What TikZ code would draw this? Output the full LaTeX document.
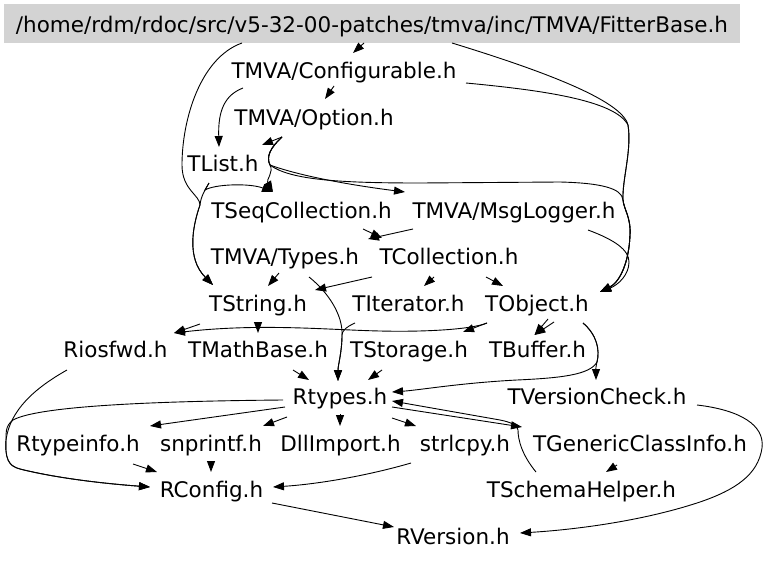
\documentclass[tikz,border=0pt]{standalone}
\usepackage{fontspec}
\setmainfont{DejaVu Sans}
\usetikzlibrary{arrows.meta,calc}
\definecolor{rootgray}{RGB}{211,211,211}
\begin{document}
\begin{tikzpicture}[x=1pt,y=-1pt,
  lbl/.style={anchor=base,inner sep=0pt,font=\fontsize{21.5pt}{24pt}\selectfont},
  e/.style={draw=black,line width=0.9pt,-{Triangle[length=11pt,width=8pt]}},
  ln/.style={draw=black,line width=0.9pt}]
\useasboundingbox (0,0) rectangle (768,562);
\fill[white] (0,0) rectangle (768,562);
% nodes
\node[lbl,fill=rootgray,minimum width=736pt,inner xsep=0pt,inner ysep=5pt,text height=23pt,text depth=6pt] (root) at (372,32) {/home/rdm/rdoc/src/v5-32-00-patches/tmva/inc/TMVA/FitterBase.h};
\node[lbl] (cfg) at (344,78) {TMVA/Configurable.h};
\node[lbl] (opt) at (314,125) {TMVA/Option.h};
\node[lbl] (tlist) at (223,171) {TList.h};
\node[lbl] (tseq) at (301.5,218) {TSeqCollection.h};
\node[lbl] (msg) at (514,218) {TMVA/MsgLogger.h};
\node[lbl] (types) at (285,264) {TMVA/Types.h};
\node[lbl] (tcoll) at (449,264) {TCollection.h};
\node[lbl] (tstr) at (258,311) {TString.h};
\node[lbl] (titer) at (408.5,311) {TIterator.h};
\node[lbl] (tobj) at (537,311) {TObject.h};
\node[lbl] (riosfwd) at (115.5,357) {Riosfwd.h};
\node[lbl] (tmath) at (258,357) {TMathBase.h};
\node[lbl] (tstor) at (409,357) {TStorage.h};
\node[lbl] (tbuf) at (537.5,357) {TBuffer.h};
\node[lbl] (rtypes) at (340,404) {Rtypes.h};
\node[lbl] (tver) at (597,404) {TVersionCheck.h};
\node[lbl] (rtinfo) at (78,451) {Rtypeinfo.h};
\node[lbl] (snpr) at (211,451) {snprintf.h};
\node[lbl] (dll) at (340.5,451) {DllImport.h};
\node[lbl] (strl) at (465,451) {strlcpy.h};
\node[lbl] (tgen) at (640,451) {TGenericClassInfo.h};
\node[lbl] (rconf) at (211.5,497) {RConfig.h};
\node[lbl] (tschema) at (581.5,497) {TSchemaHelper.h};
\node[lbl] (rver) at (453,544) {RVersion.h};
% edges
\draw[e] ($(root.base)+(-8,11)$) -- ($(cfg.base)+(9,-25)$);
\draw[e] ($(cfg.base)+(-10,8)$) -- ($(opt.base)+(11,-26)$);
\draw[e] ($(cfg.base)+(-101,10)$) .. controls (225,95) and (218,110) .. ($(tlist.base)+(-4,-24)$);
\draw[e] ($(opt.base)+(-32,12)$) -- ($(tlist.base)+(39,-26)$);
\draw[e] ($(opt.base)+(-32,12)$) .. controls (270,148) and (266,157) .. (270,165) .. controls (274,172) and (266,180) .. ($(tseq.base)+(-28.5,-26)$);
\draw[e] ($(root.base)+(-130,11)$) .. controls (200,58) and (182,120) .. (182,165) .. controls (182,190) and (200,195) .. (200,205) .. controls (193,225) and (186,258) .. ($(tstr.base)+(-45,-26)$);
\draw[e] ($(tlist.base)+(-14,12)$) .. controls (205,190) and (201,196) .. (200,205) .. controls (193,225) and (186,258) .. ($(tstr.base)+(-45,-26)$);
\draw[e] ($(tlist.base)+(-14,12)$) -- (205,190) .. controls (215,184) and (250,183) .. ($(tseq.base)+(-28.5,-26)$);
\draw[e] ($(opt.base)+(-32,12)$) .. controls (270,148) and (266,157) .. (270,165) .. controls (300,176) and (350,185) .. ($(msg.base)+(-109,-26)$);
\draw[e] ($(opt.base)+(-32,12)$) .. controls (270,148) and (266,157) .. (270,165) .. controls (290,180) and (340,183) .. (420,183) -- (560,182) .. controls (600,183) and (622,188) .. (623,200) .. controls (624,210) and (631,217) .. (630,235) .. controls (629,262) and (620,282) .. ($(tobj.base)+(63,-19)$);
\draw[e] ($(root.base)+(80,11)$) .. controls (540,70) and (622,100) .. (628,125) .. controls (632,150) and (622,180) .. (623,200) .. controls (624,210) and (631,217) .. (630,235) .. controls (629,262) and (620,282) .. ($(tobj.base)+(63,-19)$);
\draw[e] ($(cfg.base)+(122,5)$) .. controls (540,90) and (615,100) .. (628,125) .. controls (632,150) and (622,180) .. (623,200) .. controls (624,210) and (631,217) .. (630,235) .. controls (629,262) and (620,282) .. ($(tobj.base)+(63,-19)$);
\draw[e] ($(msg.base)+(74,12)$) .. controls (615,240) and (629,250) .. (629,262) .. controls (629,275) and (618,285) .. ($(tobj.base)+(63,-19)$);
\draw[e] ($(tseq.base)+(61.5,11)$) -- ($(tcoll.base)+(-67,-26)$);
\draw[e] ($(msg.base)+(-101,11)$) -- ($(types.base)+(83,-25)$);
\draw[e] ($(types.base)+(-6,9)$) -- ($(tstr.base)+(10,-25)$);
\draw[e] ($(types.base)+(24,13)$) .. controls (328,292) and (343,315) .. (342,335) .. controls (342,352) and (338,365) .. ($(rtypes.base)+(-2,-23)$);
\draw[e] ($(titer.base)+(-53.5,12)$) .. controls (346,327) and (342,331) .. (342,335) .. controls (342,352) and (338,365) .. ($(rtypes.base)+(-2,-23)$);
\draw[e] ($(tcoll.base)+(-77,13)$) -- ($(tstr.base)+(57,-21)$);
\draw[e] ($(tcoll.base)+(-15,13)$) -- ($(titer.base)+(15.5,-25)$);
\draw[e] ($(tcoll.base)+(37,13)$) -- ($(tobj.base)+(-34,-25)$);
\draw[e] ($(tstr.base)+(-58,13)$) -- ($(riosfwd.base)+(58.5,-24)$);
\draw[e] ($(tstr.base)+(0,11)$) -- ($(tmath.base)+(0,-24)$);
\draw[e] ($(tobj.base)+(-50,12)$) .. controls (470,330) and (420,332) .. (380,331) .. controls (330,330) and (260,323) .. ($(riosfwd.base)+(58.5,-24)$);
\draw[e] ($(tobj.base)+(-50,12)$) -- ($(tstor.base)+(54,-25)$);
\draw[e] ($(tobj.base)+(11,8)$) -- ($(tbuf.base)+(-3,-22)$);
\draw[e] ($(tobj.base)+(17,11)$) -- ($(tbuf.base)+(-3,-22)$);
\draw[e] ($(tobj.base)+(46,12)$) .. controls (597,335) and (600,350) .. (597,362) .. controls (595,370) and (596,374) .. ($(tver.base)+(-1,-24)$);
\draw[e] ($(tobj.base)+(46,12)$) .. controls (597,335) and (600,350) .. (597,362) .. controls (590,375) and (560,378) .. (517,380) .. controls (460,383) and (420,390) .. ($(rtypes.base)+(52,-12)$);
\draw[e] ($(tschema.base)+(-45.5,-25)$) .. controls (522,455) and (518,440) .. (518,430) .. controls (518,425) and (510,422) .. (500,420) -- ($(rtypes.base)+(52,-3)$);
\draw[e] ($(rtypes.base)+(52,3)$) -- ($(tgen.base)+(-118,-24)$);
\draw[e] ($(tver.base)+(100,1)$) .. controls (740,410) and (765,425) .. (762,448) .. controls (758,475) and (735,490) .. (700,502) .. controls (640,522) and (570,530) .. ($(rver.base)+(67,-11)$);
\draw[e] ($(rtypes.base)+(-55,3)$) -- ($(rtinfo.base)+(72,-25)$);
\draw[e] ($(rtypes.base)+(-53,13)$) -- ($(snpr.base)+(52,-25)$);
\draw[e] ($(rtypes.base)+(0,10)$) -- ($(dll.base)+(-0.5,-25)$);
\draw[e] ($(rtypes.base)+(52,14)$) -- ($(strl.base)+(-49,-25)$);
\draw[e] ($(rtypes.base)+(-57,-4)$) .. controls (170,401) and (40,405) .. (13,420) .. controls (5,426) and (6,434) .. (6,440) .. controls (5,458) and (8,466) .. (20,469) .. controls (60,479) and (110,484) .. ($(rconf.base)+(-61.5,-10)$);
\draw[e] ($(riosfwd.base)+(-48.5,13)$) .. controls (35,388) and (10,410) .. (6,440) .. controls (5,458) and (8,466) .. (20,469) .. controls (60,479) and (110,484) .. ($(rconf.base)+(-61.5,-10)$);
\draw[e] ($(rtinfo.base)+(55,13)$) -- ($(rconf.base)+(-54.5,-25)$);
\draw[e] ($(snpr.base)+(0,10)$) -- ($(rconf.base)+(-0.5,-25)$);
\draw[e] ($(strl.base)+(-54,12)$) .. controls (370,475) and (320,484) .. ($(rconf.base)+(61.5,-10)$);
\draw[e] ($(tgen.base)+(-23,14)$) -- ($(tschema.base)+(24.5,-25)$);
\draw[e] ($(rconf.base)+(60.5,6)$) -- ($(rver.base)+(-59,-17)$);
\draw[e] ($(tmath.base)+(35,13)$) -- ($(rtypes.base)+(-31,-24)$);
\draw[e] ($(tstor.base)+(-27,13)$) -- ($(rtypes.base)+(28,-24)$);
\end{tikzpicture}
\end{document}
